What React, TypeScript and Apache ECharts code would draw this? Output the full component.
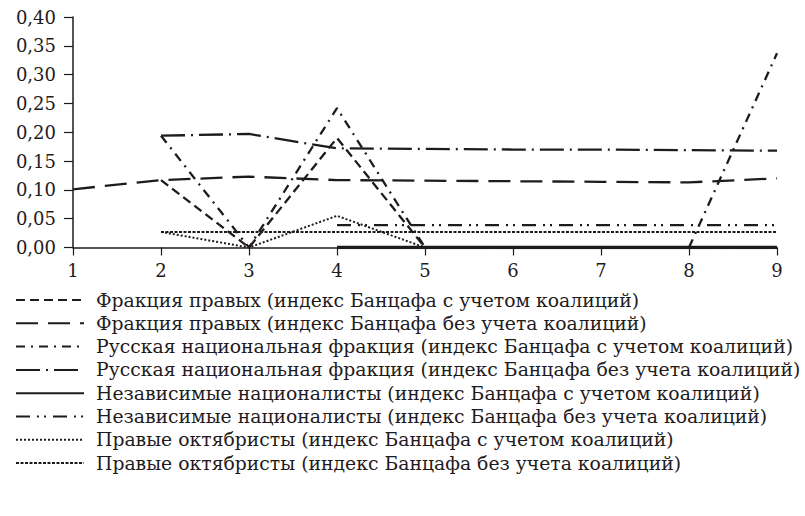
import React, { useEffect, useRef } from "react";
import * as echarts from "echarts";

const xValues = [1, 2, 3, 4, 5, 6, 7, 8, 9];
const yTicks = [0, 0.05, 0.1, 0.15, 0.2, 0.25, 0.3, 0.35, 0.4];

const seriesNames = [
  "Фракция правых (индекс Банцафа с учетом коалиций)",
  "Фракция правых (индекс Банцафа без учета коалиций)",
  "Русская национальная фракция (индекс Банцафа с учетом коалиций)",
  "Русская национальная фракция (индекс Банцафа без учета коалиций)",
  "Независимые националисты (индекс Банцафа с учетом коалиций)",
  "Независимые националисты (индекс Банцафа без учета коалиций)",
  "Правые октябристы (индекс Банцафа с учетом коалиций)",
  "Правые октябристы (индекс Банцафа без учета коалиций)",
];

const rightsWithCoal = [null, 0.117, 0, 0.19, 0, 0, 0, 0, 0];
const rightsNoCoal = [0.101, 0.117, 0.123, 0.117, 0.116, 0.115, 0.114, 0.113, 0.12];
const rusWithCoal = [null, 0.194, 0, 0.242, 0, 0, 0, 0, 0.337];
const rusNoCoal = [null, 0.194, 0.197, 0.172, 0.171, 0.17, 0.17, 0.169, 0.168];
const indepWithCoal = [null, null, null, 0, 0, 0, 0, 0, 0];
const indepNoCoal = [null, null, null, 0.039, 0.039, 0.039, 0.039, 0.039, 0.039];
const octWithCoal = [null, 0.027, 0, 0.055, 0, 0, 0, 0, 0];
const octNoCoal = [null, 0.027, 0.027, 0.027, 0.027, 0.027, 0.027, 0.027, 0.027];

const allValues = [
  rightsWithCoal,
  rightsNoCoal,
  rusWithCoal,
  rusNoCoal,
  indepWithCoal,
  indepNoCoal,
  octWithCoal,
  octNoCoal,
];

const dashTypes: any[] = [
  [9, 5],
  [22, 10],
  [9, 6, 2, 6],
  [24, 6, 2, 6],
  "solid",
  [14, 7, 2, 5, 2, 7],
  [2, 2],
  [3, 1.5],
];
const widths = [2.3, 2.3, 2.3, 2.3, 3.3, 2.3, 2, 2];
const INK = "#1f1b1c";
const FONT = "'DejaVu Serif', 'Liberation Serif', serif";

export default function App() {
  const ref = useRef<HTMLDivElement>(null);
  useEffect(() => {
    if (!ref.current) return;
    const chart = echarts.init(ref.current, undefined, { renderer: "svg" });
    const series = seriesNames.map((name, i) => ({
      name,
      type: "line",
      data: xValues.map((x, j) => [x, allValues[i][j]]),
      symbol: "none",
      connectNulls: false,
      lineStyle: { color: INK, width: widths[i], type: dashTypes[i] },
      itemStyle: { color: INK },
      z: 10 - i,
    }));
    chart.setOption({
      animation: false,
      backgroundColor: "#ffffff",
      grid: { left: 73, top: 17, width: 704, height: 230.5, containLabel: false },
      xAxis: {
        type: "value",
        min: 1,
        max: 9,
        interval: 1,
        axisLine: { show: true, lineStyle: { color: INK, width: 1.5 } },
        axisTick: { show: true, inside: false, length: 8, lineStyle: { color: INK, width: 1.2 } },
        axisLabel: { color: INK, fontFamily: FONT, fontSize: 18, margin: 14 },
        splitLine: { show: false },
      },
      yAxis: {
        type: "value",
        min: 0,
        max: 0.4,
        interval: 0.05,
        axisLine: { show: true, lineStyle: { color: INK, width: 1.5 } },
        axisTick: { show: true, inside: false, length: 9, lineStyle: { color: INK, width: 1.2 } },
        axisLabel: {
          color: INK,
          fontFamily: FONT,
          fontSize: 18,
          margin: 17,
          formatter: (v: number) => v.toFixed(2).replace(".", ","),
        },
        splitLine: { show: false },
      },
      legend: {
        orient: "vertical",
        left: 10,
        top: 285,
        itemWidth: 68,
        itemHeight: 12,
        itemGap: 3.3,
        itemStyle: { opacity: 0 },
        textStyle: { color: INK, fontFamily: FONT, fontSize: 18.8, lineHeight: 20, padding: [0, 0, 0, 7] },
        data: seriesNames,
      },
      series,
    });
    return () => chart.dispose();
  }, []);
  return (
    <div
      ref={ref}
      style={{ position: "fixed", left: 0, top: 0, width: 805, height: 516, background: "#fff" }}
    />
  );
}
